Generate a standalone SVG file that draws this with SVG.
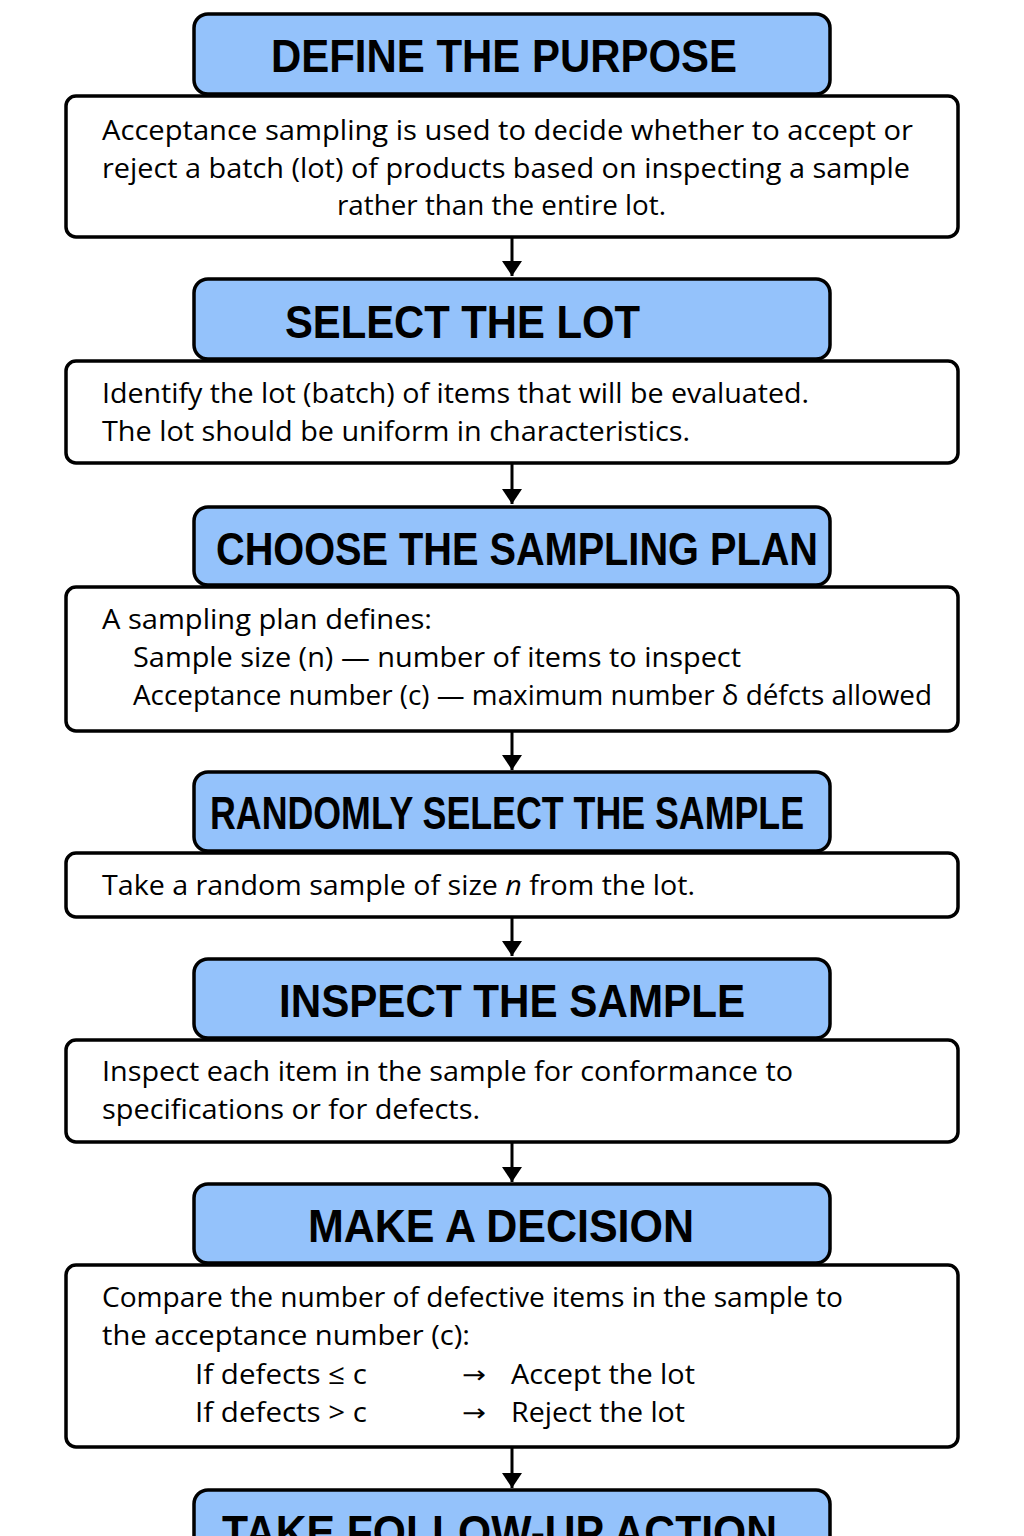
<svg xmlns="http://www.w3.org/2000/svg" width="1024" height="1536" viewBox="0 0 1024 1536">
<defs>
<style>
.hdr{fill:#94c2fb;stroke:#000;stroke-width:3.5}
.body{fill:#fff;stroke:#000;stroke-width:3.5}
.ht{font-family:"Liberation Sans",Arial,sans-serif;font-weight:bold;font-size:46px;fill:#000}
.bt{font-family:"Open Sans","Noto Sans",sans-serif;font-size:28px;fill:#000}
.arr{font-family:"DejaVu Sans",sans-serif;font-size:24px;fill:#000}
.conn{stroke:#000;stroke-width:3;fill:none}
</style>
<marker id="ah" markerUnits="userSpaceOnUse" markerWidth="15" markerHeight="20" viewBox="0 0 15 20" refX="15" refY="10" orient="auto">
<path d="M0,0 L15,10 L0,20 z" fill="#000"/>
</marker>
</defs>
<rect width="1024" height="1536" fill="#fff"/>

<g id="connectors">
<line class="conn" x1="512" y1="238" x2="512" y2="276" marker-end="url(#ah)"/>
<line class="conn" x1="512" y1="464" x2="512" y2="504" marker-end="url(#ah)"/>
<line class="conn" x1="512" y1="732" x2="512" y2="770" marker-end="url(#ah)"/>
<line class="conn" x1="512" y1="918" x2="512" y2="956" marker-end="url(#ah)"/>
<line class="conn" x1="512" y1="1143" x2="512" y2="1182" marker-end="url(#ah)"/>
<line class="conn" x1="512" y1="1448" x2="512" y2="1488" marker-end="url(#ah)"/>
</g>

<g id="node-purpose">
<rect class="hdr" x="194" y="14" width="636" height="80" rx="14"/>
<text class="ht" x="271" y="72" textLength="466" lengthAdjust="spacingAndGlyphs">DEFINE THE PURPOSE</text>
<rect class="body" x="66" y="96" width="892" height="141" rx="10"/>
<text class="bt" x="102" y="140" textLength="811" lengthAdjust="spacingAndGlyphs">Acceptance sampling is used to decide whether to accept or</text>
<text class="bt" x="102" y="178" textLength="808" lengthAdjust="spacingAndGlyphs">reject a batch (lot) of products based on inspecting a sample</text>
<text class="bt" x="337" y="215" textLength="329" lengthAdjust="spacingAndGlyphs">rather than the entire lot.</text>
</g>

<g id="node-lot">
<rect class="hdr" x="194" y="279" width="636" height="80" rx="14"/>
<text class="ht" x="285" y="338" textLength="355" lengthAdjust="spacingAndGlyphs">SELECT THE LOT</text>
<rect class="body" x="66" y="361" width="892" height="102" rx="10"/>
<text class="bt" x="102" y="403" textLength="707" lengthAdjust="spacingAndGlyphs">Identify the lot (batch) of items that will be evaluated.</text>
<text class="bt" x="102" y="441" textLength="588" lengthAdjust="spacingAndGlyphs">The lot should be uniform in characteristics.</text>
</g>

<g id="node-plan">
<rect class="hdr" x="194" y="507" width="636" height="78" rx="14"/>
<text class="ht" x="216" y="565" textLength="602" lengthAdjust="spacingAndGlyphs">CHOOSE THE SAMPLING PLAN</text>
<rect class="body" x="66" y="587" width="892" height="144" rx="10"/>
<text class="bt" x="102" y="629" textLength="330" lengthAdjust="spacingAndGlyphs">A sampling plan defines:</text>
<text class="bt" x="133" y="667" textLength="608" lengthAdjust="spacingAndGlyphs">Sample size (n) — number of items to inspect</text>
<text class="bt" x="133" y="705" textLength="799" lengthAdjust="spacingAndGlyphs">Acceptance number (c) — maximum number δ défcts allowed</text>
</g>

<g id="node-sample">
<rect class="hdr" x="194" y="772" width="636" height="79" rx="14"/>
<text class="ht" x="210" y="829" textLength="594" lengthAdjust="spacingAndGlyphs">RANDOMLY SELECT THE SAMPLE</text>
<rect class="body" x="66" y="853" width="892" height="64" rx="10"/>
<text class="bt" x="102" y="895" textLength="593" lengthAdjust="spacingAndGlyphs">Take a random sample of size <tspan font-style="italic">n</tspan> from the lot.</text>
</g>

<g id="node-inspect">
<rect class="hdr" x="194" y="959" width="636" height="79" rx="14"/>
<text class="ht" x="279" y="1017" textLength="466" lengthAdjust="spacingAndGlyphs">INSPECT THE SAMPLE</text>
<rect class="body" x="66" y="1040" width="892" height="102" rx="10"/>
<text class="bt" x="102" y="1081" textLength="691" lengthAdjust="spacingAndGlyphs">Inspect each item in the sample for conformance to</text>
<text class="bt" x="102" y="1119" textLength="378" lengthAdjust="spacingAndGlyphs">specifications or for defects.</text>
</g>

<g id="node-decision">
<rect class="hdr" x="194" y="1184" width="636" height="79" rx="14"/>
<text class="ht" x="308" y="1242" textLength="386" lengthAdjust="spacingAndGlyphs">MAKE A DECISION</text>
<rect class="body" x="66" y="1265" width="892" height="182" rx="10"/>
<text class="bt" x="102" y="1307" textLength="741" lengthAdjust="spacingAndGlyphs">Compare the number of defective items in the sample to</text>
<text class="bt" x="102" y="1345" textLength="368" lengthAdjust="spacingAndGlyphs">the acceptance number (c):</text>
<text class="bt" x="195" y="1384" textLength="172" lengthAdjust="spacingAndGlyphs">If defects ≤ c</text>
<text class="arr" x="462" y="1383" textLength="24" lengthAdjust="spacingAndGlyphs">→</text>
<text class="bt" x="511" y="1384" textLength="184" lengthAdjust="spacingAndGlyphs">Accept the lot</text>
<text class="bt" x="195" y="1422" textLength="172" lengthAdjust="spacingAndGlyphs">If defects &gt; c</text>
<text class="arr" x="462" y="1421" textLength="24" lengthAdjust="spacingAndGlyphs">→</text>
<text class="bt" x="511" y="1422" textLength="174" lengthAdjust="spacingAndGlyphs">Reject the lot</text>
</g>

<g id="node-followup">
<rect class="hdr" x="194" y="1490" width="636" height="80" rx="14"/>
<text class="ht" x="222" y="1548" textLength="555" lengthAdjust="spacingAndGlyphs">TAKE FOLLOW-UP ACTION</text>
</g>
</svg>
